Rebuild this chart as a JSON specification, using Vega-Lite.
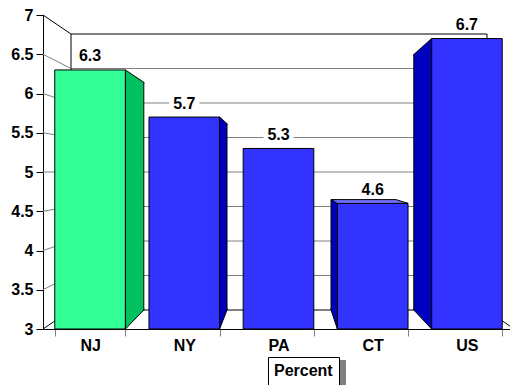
{
  "$schema": "https://vega.github.io/schema/vega-lite/v6.json",
  "width": 471,
  "height": 314,
  "autosize": "none",
  "padding": {"left": 43, "top": 15, "right": 0, "bottom": 56},
  "background": "white",
  "config": {
    "view": {"stroke": null},
    "font": "Liberation Sans",
    "axisY": {"labelFont": "Liberation Sans", "labelFontSize": 16, "labelFontWeight": "bold", "labelColor": "black", "tickColor": "black", "tickSize": 7, "domainColor": "black", "grid": false, "labelPadding": 3, "labelOverlap": false},
    "axisX": {"labelFont": "Liberation Sans", "labelFontSize": 16, "labelFontWeight": "bold", "labelColor": "black", "labelAngle": 0, "tickColor": "#808080", "tickSize": 7, "tickBand": "extent", "domainColor": "black", "grid": false, "labelPadding": 1}
  },
  "datasets": {
    "rates": [
      {"state": "NJ", "pct": 6.3, "series": "Percent"},
      {"state": "NY", "pct": 5.7, "series": "Percent"},
      {"state": "PA", "pct": 5.3, "series": "Percent"},
      {"state": "CT", "pct": 4.6, "series": "Percent"},
      {"state": "US", "pct": 6.7, "series": "Percent"}
    ],
    "levels": [
      {"v": 3}, {"v": 3.5}, {"v": 4}, {"v": 4.5}, {"v": 5},
      {"v": 5.5}, {"v": 6}, {"v": 6.5}, {"v": 7}
    ]
  },
  "layer": [
    {
      "name": "wall",
      "layer": [
        {
          "data": {"name": "levels"},
          "mark": {"type": "rule", "strokeWidth": 1},
          "encoding": {
            "x": {"datum": 0, "type": "quantitative", "scale": {"domain": [0, 1], "range": [28, 444]}, "axis": null},
            "x2": {"datum": 1},
            "y": {"field": "v", "type": "quantitative", "scale": {"domain": [3, 7], "range": [295, 19]}, "axis": null},
            "color": {"condition": {"test": "datum.v === 3 || datum.v === 7", "value": "black"}, "value": "#808080"}
          }
        },
        {
          "data": {"values": [{}]},
          "mark": {"type": "rule", "color": "black", "strokeWidth": 1},
          "encoding": {
            "x": {"datum": 0, "type": "quantitative", "axis": null},
            "y": {"datum": 3, "type": "quantitative", "axis": null},
            "y2": {"datum": 7}
          }
        },
        {
          "data": {"values": [{}]},
          "mark": {"type": "rule", "color": "black", "strokeWidth": 1},
          "encoding": {
            "x": {"datum": 1, "type": "quantitative", "axis": null},
            "y": {"datum": 3, "type": "quantitative", "axis": null},
            "y2": {"datum": 7}
          }
        }
      ]
    },
    {
      "layer": [
        {
          "data": {"name": "levels"},
          "mark": {"type": "rule", "strokeWidth": 1},
          "encoding": {
            "x": {"value": 0},
            "x2": {"value": {"expr": "scale('wall_x', 0)"}},
            "y": {"field": "v", "type": "quantitative", "scale": {"domain": [3, 7]}, "axis": {"title": null, "values": [3, 3.5, 4, 4.5, 5, 5.5, 6, 6.5, 7], "format": "~g"}},
            "y2": {"value": {"expr": "scale('wall_y', datum.v)"}},
            "color": {"condition": {"test": "datum.v === 3 || datum.v === 7", "value": "black"}, "value": "#808080"}
          }
        },
        {
          "data": {"name": "levels"},
          "transform": [{"filter": "datum.v === 3"}],
          "mark": {"type": "rule", "strokeWidth": 1, "color": "black"},
          "encoding": {
            "x": {"value": "width"},
            "x2": {"value": {"expr": "scale('wall_x', 1)"}},
            "y": {"field": "v", "type": "quantitative", "axis": {"title": null, "values": [3, 3.5, 4, 4.5, 5, 5.5, 6, 6.5, 7], "format": "~g"}},
            "y2": {"value": {"expr": "scale('wall_y', datum.v)"}}
          }
        },
        {
          "data": {"name": "rates"},
          "mark": {"type": "bar", "strokeWidth": 1},
          "encoding": {
            "x": {"field": "state", "type": "nominal", "sort": ["NJ", "NY", "PA", "CT", "US"], "scale": {"paddingInner": 0.25, "paddingOuter": 0.125}, "axis": {"title": null}},
            "y": {"field": "pct", "type": "quantitative", "axis": {"title": null, "values": [3, 3.5, 4, 4.5, 5, 5.5, 6, 6.5, 7], "format": "~g"}},
            "y2": {"datum": 3},
            "fill": {"condition": {"test": "datum.state === 'NJ'", "value": "#33FF99"}, "value": "#3333FF"},
            "stroke": {"field": "series", "type": "nominal", "scale": {"range": ["black"]},
              "legend": {"title": null, "orient": "none", "legendX": 225, "legendY": 342, "zindex": 2, "strokeColor": "black", "fillColor": "white", "padding": 6, "symbolSize": 0, "symbolStrokeWidth": 0, "labelOffset": -16, "labelFont": "Liberation Sans", "labelFontSize": 16, "labelFontWeight": "bold", "labelColor": "black", "cornerRadius": 0}}
          }
        },
        {
          "data": {"name": "rates"},
          "transform": [{"filter": "datum.state === 'NJ'"}],
          "layer": [
            {"mark": {"type": "bar", "width": 18.4, "xOffset": 44.5, "yOffset": 12.35, "y2Offset": -19, "fill": "#00C060", "stroke": "black", "strokeWidth": 1},
             "encoding": {"y2": {"datum": 3}}},
            {"mark": {"type": "point", "shape": "M-1,0.84L-1,-0.671L1,0.671L1,0.84", "size": 338.56, "xOffset": 44.5, "yOffset": 6.17, "filled": true, "fill": "#00C060", "stroke": "black", "strokeWidth": 1, "opacity": 1}},
            {"mark": {"type": "point", "shape": "M1,-1.2L1,-1.033L-1,1.033L-1,-1.2", "size": 338.56, "xOffset": 44.5, "yOffset": -9.5, "filled": true, "fill": "#00C060", "stroke": "black", "strokeWidth": 1, "opacity": 1},
             "encoding": {"y": {"datum": 3, "type": "quantitative"}}}
          ],
          "encoding": {
            "x": {"field": "state", "type": "nominal", "sort": ["NJ", "NY", "PA", "CT", "US"]},
            "y": {"field": "pct", "type": "quantitative", "axis": {"title": null, "values": [3, 3.5, 4, 4.5, 5, 5.5, 6, 6.5, 7], "format": "~g"}}
          }
        },
        {
          "data": {"name": "rates"},
          "transform": [{"filter": "datum.state === 'NY'"}],
          "layer": [
            {"mark": {"type": "bar", "width": 7.4, "xOffset": 39.0, "yOffset": 6.65, "y2Offset": -19, "fill": "#0000BF", "stroke": "black", "strokeWidth": 1},
             "encoding": {"y2": {"datum": 3}}},
            {"mark": {"type": "point", "shape": "M-1,1.3L-1,-0.899L1,0.899L1,1.3", "size": 54.76, "xOffset": 39.0, "yOffset": 3.3, "filled": true, "fill": "#0000BF", "stroke": "black", "strokeWidth": 1, "opacity": 1}},
            {"mark": {"type": "point", "shape": "M1,-2.97L1,-2.568L-1,2.568L-1,-2.97", "size": 54.76, "xOffset": 39.0, "yOffset": -9.5, "filled": true, "fill": "#0000BF", "stroke": "black", "strokeWidth": 1, "opacity": 1},
             "encoding": {"y": {"datum": 3, "type": "quantitative"}}}
          ],
          "encoding": {
            "x": {"field": "state", "type": "nominal", "sort": ["NJ", "NY", "PA", "CT", "US"]},
            "y": {"field": "pct", "type": "quantitative", "axis": {"title": null, "values": [3, 3.5, 4, 4.5, 5, 5.5, 6, 6.5, 7], "format": "~g"}}
          }
        },
        {
          "data": {"name": "rates"},
          "transform": [{"filter": "datum.state === 'CT'"}],
          "layer": [
            {"mark": {"type": "bar", "width": 6.4, "xOffset": -38.5, "yOffset": -3.8, "y2Offset": -19, "fill": "#0000BF", "stroke": "black", "strokeWidth": 1},
             "encoding": {"y2": {"datum": 3}}},
            {"mark": {"type": "point", "shape": "M-1,-3.42L-1,-2.969L1,2.969L1,-3.42", "size": 40.96, "xOffset": -38.5, "yOffset": -9.5, "filled": true, "fill": "#0000BF", "stroke": "black", "strokeWidth": 1, "opacity": 1},
             "encoding": {"y": {"datum": 3, "type": "quantitative"}}},
            {"mark": {"type": "point", "shape": "M-1,-0.049L0.688,-0.049L1,0.049L-0.834,0.049Z", "size": 5929, "xOffset": -3.2, "yOffset": -1.9, "filled": true, "fill": "#7070FF", "stroke": "black", "strokeWidth": 1, "opacity": 1}}
          ],
          "encoding": {
            "x": {"field": "state", "type": "nominal", "sort": ["NJ", "NY", "PA", "CT", "US"]},
            "y": {"field": "pct", "type": "quantitative", "axis": {"title": null, "values": [3, 3.5, 4, 4.5, 5, 5.5, 6, 6.5, 7], "format": "~g"}}
          }
        },
        {
          "data": {"name": "rates"},
          "transform": [{"filter": "datum.state === 'US'"}],
          "layer": [
            {"mark": {"type": "bar", "width": 17.8, "xOffset": -44.2, "yOffset": 16, "y2Offset": -19, "fill": "#0000BF", "stroke": "black", "strokeWidth": 1},
             "encoding": {"y2": {"datum": 3}}},
            {"mark": {"type": "point", "shape": "M-1,1.07L-1,0.899L1,-0.899L1,1.07", "size": 316.84, "xOffset": -44.2, "yOffset": 8, "filled": true, "fill": "#0000BF", "stroke": "black", "strokeWidth": 1, "opacity": 1}},
            {"mark": {"type": "point", "shape": "M-1,-1.24L-1,-1.067L1,1.067L1,-1.24", "size": 316.84, "xOffset": -44.2, "yOffset": -9.5, "filled": true, "fill": "#0000BF", "stroke": "black", "strokeWidth": 1, "opacity": 1},
             "encoding": {"y": {"datum": 3, "type": "quantitative"}}}
          ],
          "encoding": {
            "x": {"field": "state", "type": "nominal", "sort": ["NJ", "NY", "PA", "CT", "US"]},
            "y": {"field": "pct", "type": "quantitative", "axis": {"title": null, "values": [3, 3.5, 4, 4.5, 5, 5.5, 6, 6.5, 7], "format": "~g"}}
          }
        },
        {
          "data": {"name": "rates"},
          "mark": {"type": "point", "shape": "M-1,-0.5L1,-0.5L1,0.5L-1,0.5Z", "size": 900, "filled": true, "fill": "white", "strokeWidth": 0, "opacity": 1, "yOffset": -13.5},
          "encoding": {
            "x": {"field": "state", "type": "nominal", "sort": ["NJ", "NY", "PA", "CT", "US"]},
            "y": {"field": "pct", "type": "quantitative", "axis": {"title": null, "values": [3, 3.5, 4, 4.5, 5, 5.5, 6, 6.5, 7], "format": "~g"}},
            "strokeDash": {"datum": "Percent", "type": "nominal", "scale": {"range": [[1, 0]]},
              "legend": {"title": null, "orient": "none", "legendX": 230, "legendY": 345, "zindex": 1, "strokeColor": "#808080", "fillColor": "#808080", "padding": 6, "symbolType": "square", "symbolSize": 3600, "symbolStrokeWidth": 0, "symbolOpacity": 0, "labelOffset": 0, "labelExpr": "''", "labelFontSize": 16, "cornerRadius": 0}}
          }
        },
        {
          "data": {"name": "rates"},
          "mark": {"type": "text", "font": "Liberation Sans", "fontSize": 16, "fontWeight": "bold", "baseline": "middle", "align": "center", "dy": -13.5, "color": "black"},
          "encoding": {
            "x": {"field": "state", "type": "nominal", "sort": ["NJ", "NY", "PA", "CT", "US"]},
            "y": {"field": "pct", "type": "quantitative", "axis": {"title": null, "values": [3, 3.5, 4, 4.5, 5, 5.5, 6, 6.5, 7], "format": "~g"}},
            "text": {"field": "pct", "type": "quantitative", "format": ".1f"}
          }
        }
      ]
    }
  ],
  "resolve": {"scale": {"x": "independent", "y": "independent"}}
}
